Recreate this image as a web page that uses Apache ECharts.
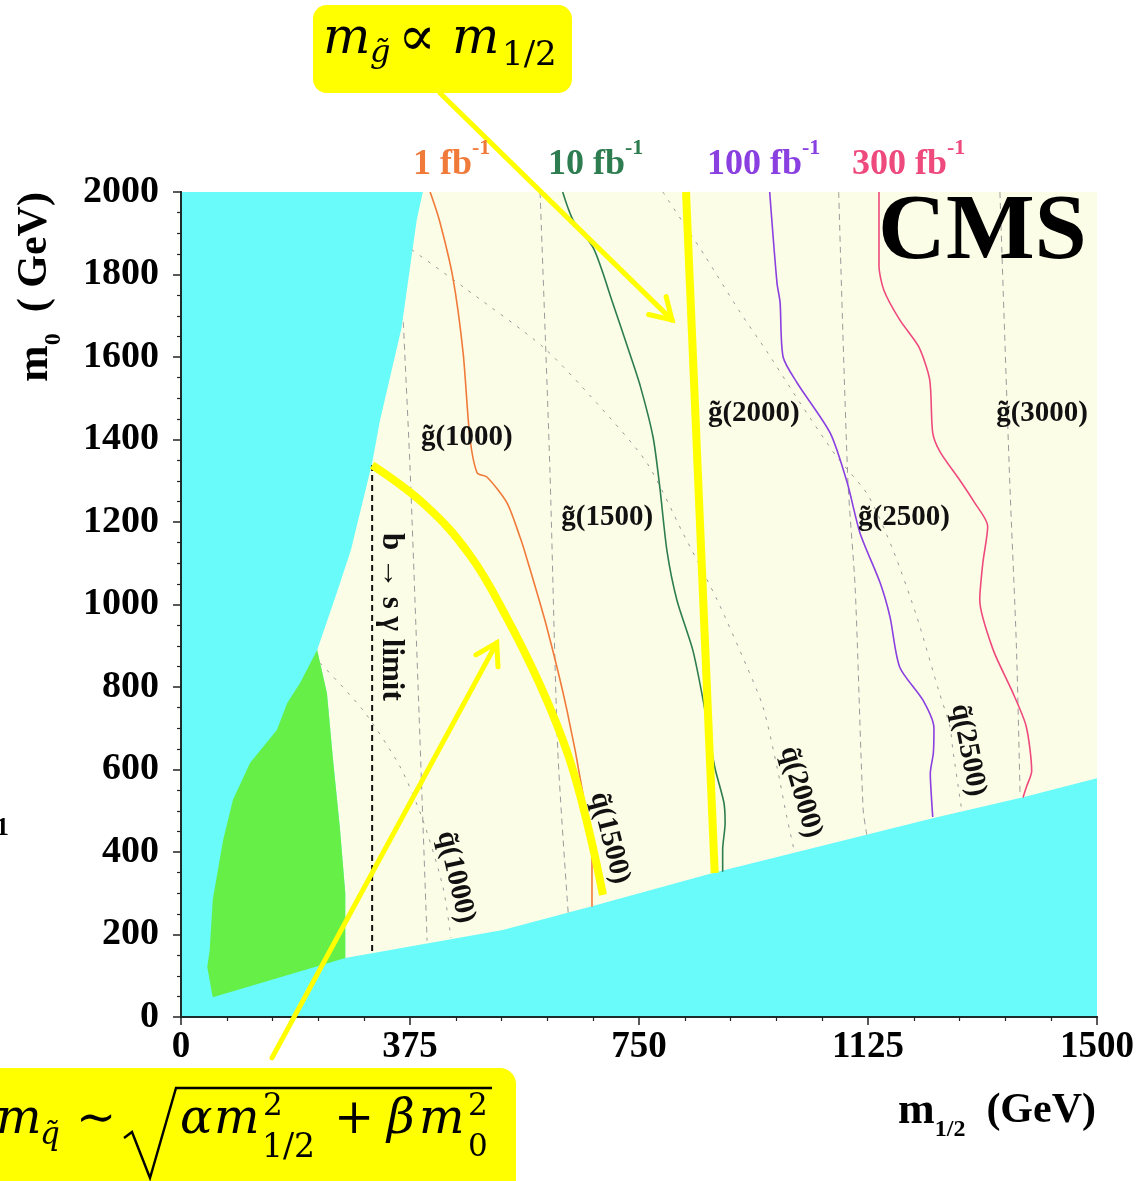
<!DOCTYPE html>
<html><head><meta charset="utf-8">
<script src="https://cdn.jsdelivr.net/npm/echarts/dist/echarts.min.js"></script>
<style>html,body{margin:0;padding:0;background:#fff}#c{width:1146px;height:1181px}</style>
</head><body><div id="c"></div>
<script>
// ---------- data (m1/2 [GeV], m0 [GeV]) ----------
const xTickValues = [0, 375, 750, 1125, 1500];
const xTickLabels = ['0', '375', '750', '1125', '1500'];
const yTickValues = [0, 200, 400, 600, 800, 1000, 1200, 1400, 1600, 1800, 2000];
const yTickLabels = ['0', '200', '400', '600', '800', '1000', '1200', '1400', '1600', '1800', '2000'];

// allowed (cream) region outline
const allowedRegion = [[396,2000],[386,1932],[361,1670],[326,1447],[313,1343],[278,1131],[255,1028],[223,890],
  [239,785],[249,623],[260,461],[269,301],[269,143],[527,211],[670,267],[871,349],[1231,482],[1379,533],[1500,579],[1500,2000]];
// green (excluded) region outline
const greenRegion = [[223,890],[239,785],[249,623],[260,461],[269,301],[269,143],[52,48],[43,121],[47,162],[52,284],
  [69,429],[85,526],[113,616],[157,696],[174,761],[195,810]];

// gluino iso-mass contours
const gluino1000 = [[364,1685],[375,1333],[388,810],[403,185]];
const gluino1500 = [[588,2000],[604,1333],[617,647],[634,253]];
const gluino2000 = [[827,2000],[874,349]];
const gluino2500 = [[1077,2000],[1092,1302],[1104,1040],[1117,504],[1123,442]];
const gluino3000 = [[1341,2000],[1357,1302],[1368,900],[1374,540]];
// squark iso-mass contours
const squark1000 = [[228,858],[298,744],[359,606],[396,478],[429,315],[442,192]];
const squark2000 = [[378,1860],[462,1770],[593,1624],[681,1488],[763,1343],[822,1173],[878,1011],[927,848],[953,752],[976,606],[992,485],[1005,398]];
const squark2500 = [[789,2000],[858,1845],[914,1712],[960,1612],[1015,1486],[1073,1360],[1125,1265],[1166,1132],[1205,970],[1241,790],[1259,705],[1264,647],[1276,526],[1279,497]];

// b -> s gamma limit
const bsgLimit = [[313,1338],[313,155]];

// 5 sigma reach contours
const reach1fb = [[408,2000],[423,1932],[445,1794],[462,1610],[473,1406],[485,1319],[501,1309],[534,1246],[555,1164],[567,1108],[599,945],[632,744],[658,543],[673,381],[673,267]];
const reach10fb = [[625,2000],[642,1932],[676,1862],[707,1731],[734,1612],[752,1530],[773,1406],[784,1285],[796,1128],[812,1011],[838,890],[855,768],[874,606],[889,520],[891,470],[887,405],[887,352]];
const reach100fb = [[964,2000],[976,1779],[981,1733],[986,1600],[1009,1537],[1063,1416],[1091,1295],[1112,1173],[1145,1052],[1161,970],[1177,848],[1215,768],[1233,700],[1232,640],[1227,590],[1229,530],[1231,485]];
const reach300fb = [[1143,2000],[1143,1821],[1151,1762],[1177,1690],[1208,1625],[1226,1545],[1231,1416],[1243,1370],[1276,1300],[1299,1248],[1321,1190],[1313,1100],[1308,1011],[1330,890],[1361,790],[1384,705],[1393,596],[1385,560],[1379,533]];

// yellow annotations
const squarkArc = [[313,1338],[400,1241],[473,1120],[531,975],[588,805],[634,635],[666,465],[691,296]];
const gluinoLine = [[827,2000],[874,349]];
const arrowTop = [[424,2240],[804,1690]];     // tail, head
const arrowBottom = [[149,-99],[517,907]];    // tail, head

// contour labels
const contourLabels = [
  {name:'g̃(1000)', pos:[468,1406], rot:0},
  {name:'g̃(1500)', pos:[698,1210], rot:0},
  {name:'g̃(2000)', pos:[938,1464], rot:0},
  {name:'g̃(2500)', pos:[1184,1210], rot:0},
  {name:'g̃(3000)', pos:[1410,1464], rot:0},
  {name:'q̃(1000)', pos:[450,339], rot:-77},
  {name:'q̃(1500)', pos:[702,434], rot:-76},
  {name:'q̃(2000)', pos:[1015,545], rot:-74},
  {name:'q̃(2500)', pos:[1289,647], rot:-79}
];
const bsgLabel = {name:'b → s γ limit', pos:[344,970], rot:-90};

const lumiNames = ['1 fb', '10 fb', '100 fb', '300 fb'];
const lumiColors = ['#f07a3a', '#2e7d50', '#8a3fe0', '#ee4a7e'];

// ---------- chart ----------
const SERIF = '"Liberation Serif","Times New Roman",serif';
const MATH = '"DejaVu Serif",serif';
const chart = echarts.init(document.getElementById('c'));

function polySeries(points, color, z) {
  return {
    type: 'custom', silent: true, z: z, data: points, encode: {x: 0, y: 1},
    renderItem: (params, api) => {
      if (params.dataIndex !== 0) return;
      return {type: 'polygon', shape: {points: points.map(p => api.coord(p))}, style: {fill: color}};
    }
  };
}
function lineSeries(points, color, width, type, z) {
  return {type: 'line', data: points, symbol: 'none', silent: true, z: z, smooth: 0.25,
    lineStyle: {color: color, width: width, type: type}};
}
const grayDash = [6, 5], grayDot = [3, 7];

const series = [
  polySeries(allowedRegion, '#fbfde6', 1),
  polySeries(greenRegion, '#66ef46', 1),
  lineSeries(gluino1000, '#9a9a9a', 1, grayDash, 3),
  lineSeries(gluino1500, '#9a9a9a', 1, grayDash, 3),
  lineSeries(gluino2000, '#9a9a9a', 1, grayDash, 3),
  lineSeries(gluino2500, '#9a9a9a', 1, grayDash, 3),
  lineSeries(gluino3000, '#9a9a9a', 1, grayDash, 3),
  lineSeries(squark1000, '#9a9a9a', 1, grayDot, 3),
  lineSeries(squark2000, '#9a9a9a', 1, grayDot, 3),
  lineSeries(squark2500, '#9a9a9a', 1, grayDot, 3),
  {type: 'line', data: bsgLimit, symbol: 'none', silent: true, z: 4, lineStyle: {color: '#111', width: 2, type: [6, 4]}},
  lineSeries(reach1fb, lumiColors[0], 1.6, 'solid', 5),
  lineSeries(reach10fb, lumiColors[1], 1.6, 'solid', 5),
  lineSeries(reach100fb, lumiColors[2], 1.6, 'solid', 5),
  lineSeries(reach300fb, lumiColors[3], 1.6, 'solid', 5),
  Object.assign(lineSeries(squarkArc, '#ffff00', 8, 'solid', 6), {smooth: 0.4}),
  {type: 'line', data: gluinoLine, symbol: 'none', silent: true, z: 6, lineStyle: {color: '#ffff00', width: 8}}
];

const axisCommon = {
  type: 'value', z: 10,
  splitLine: {show: false},
  axisLine: {show: true, lineStyle: {color: '#1e2b2b', width: 2}},
  axisTick: {show: true, length: 8, lineStyle: {color: '#222', width: 1.5}},
  minorTick: {show: true, length: 4, lineStyle: {color: '#222', width: 1.2}},
  axisLabel: {color: '#000', fontFamily: SERIF, fontWeight: 'bold', fontSize: 38, showMinLabel: true, showMaxLabel: true}
};

chart.setOption({
  animation: false,
  grid: {left: 181, right: 49, top: 192, bottom: 164, show: true, backgroundColor: '#69fafa', borderWidth: 0, outerBoundsMode: 'none'},
  xAxis: [
    Object.assign({}, axisCommon, {min: 0, max: 1500, interval: 375,
      minorTick: Object.assign({}, axisCommon.minorTick, {splitNumber: 5}),
      axisLabel: Object.assign({}, axisCommon.axisLabel, {margin: 12, fontSize: 37,
        formatter: v => { const i = xTickValues.indexOf(v); return i >= 0 ? xTickLabels[i] : ''; }})}),
    {type: 'value', min: 0, max: 1500, position: 'top', z: 10, splitLine: {show: false}, axisTick: {show: false}, axisLabel: {show: false},
      axisLine: {show: true, lineStyle: {color: '#1e2b2b', width: 2}}}
  ],
  yAxis: [
    Object.assign({}, axisCommon, {min: 0, max: 2000, interval: 200,
      minorTick: Object.assign({}, axisCommon.minorTick, {splitNumber: 4}),
      axisLabel: Object.assign({}, axisCommon.axisLabel, {margin: 22,
        formatter: v => { const i = yTickValues.indexOf(v); return i >= 0 ? yTickLabels[i] : ''; }})}),
    {type: 'value', min: 0, max: 2000, position: 'right', z: 10, splitLine: {show: false}, axisTick: {show: false}, axisLabel: {show: false},
      axisLine: {show: true, lineStyle: {color: '#1e2b2b', width: 2}}}
  ],
  series: series
});

// ---------- annotations ----------
function px(p) { return chart.convertToPixel({xAxisIndex: 0, yAxisIndex: 0}, p); }
function arrow(pts) {
  const a = px(pts[0]), b = px(pts[1]);
  const ang = Math.atan2(b[1] - a[1], b[0] - a[0]);
  const L = 24, spread = 0.55;
  const w1 = [b[0] - L * Math.cos(ang - spread), b[1] - L * Math.sin(ang - spread)];
  const w2 = [b[0] - L * Math.cos(ang + spread), b[1] - L * Math.sin(ang + spread)];
  const st = {stroke: '#ffff00', lineWidth: 5, lineCap: 'round', fill: null};
  return [
    {type: 'polyline', z: 100, shape: {points: [a, b]}, style: st},
    {type: 'polyline', z: 100, shape: {points: [w1, b, w2]}, style: st}
  ];
}
function txt(x, y, text, font, opts) {
  return Object.assign({type: 'text', z: 101, x: x, y: y,
    style: Object.assign({text: text, font: font, fill: '#000', align: 'left', verticalAlign: 'middle'}, opts || {})});
}
const lumiX = [413, 548, 707, 852];
const graphics = [];
// contour labels placed at data positions
contourLabels.concat([bsgLabel]).forEach(l => {
  const p = px(l.pos);
  graphics.push({type: 'text', z: 50, x: p[0], y: p[1], rotation: l.rot * Math.PI / 180,
    style: {text: l.name, font: 'bold ' + (l === bsgLabel ? 31 : 29) + 'px ' + SERIF, fill: '#111', align: 'center', verticalAlign: 'middle'}});
});
arrow(arrowTop).forEach(g => graphics.push(g));
arrow(arrowBottom).forEach(g => graphics.push(g));
// callout boxes
graphics.push({type: 'rect', z: 99, shape: {x: 313, y: 5, width: 259, height: 88, r: 14}, style: {fill: '#ffff00'}});
graphics.push({type: 'rect', z: 99, shape: {x: -30, y: 1068, width: 546, height: 140, r: 16}, style: {fill: '#ffff00'}});
// top formula  m_g ∝ m_1/2
graphics.push(txt(323, 40, 'm', 'italic 50px ' + MATH));
graphics.push(txt(370, 54, 'g̃', 'italic 32px ' + MATH));
graphics.push(txt(398, 40, '∝', '56px ' + MATH));
graphics.push(txt(452, 40, 'm', 'italic 50px ' + MATH));
graphics.push(txt(502, 56, '1/2', '34px ' + MATH));
// bottom formula  m_q ~ sqrt(alpha m1/2^2 + beta m0^2)
const bl = 1138;
graphics.push(txt(-4, bl - 17, 'm', 'italic 48px ' + MATH));
graphics.push(txt(40, bl - 2, 'q̃', 'italic 31px ' + MATH));
graphics.push(txt(76, bl - 17, '∼', '48px ' + MATH));
graphics.push({type: 'polyline', z: 101, shape: {points: [[124, 1138], [132, 1132], [150, 1178], [176, 1088], [492, 1088]]},
  style: {stroke: '#000', lineWidth: 2.4, fill: null}});
graphics.push(txt(180, bl - 17, 'α', 'italic 48px ' + MATH));
graphics.push(txt(214, bl - 17, 'm', 'italic 48px ' + MATH));
graphics.push(txt(263, bl - 31, '2', '31px ' + MATH));
graphics.push(txt(262, bl + 10, '1/2', '33px ' + MATH));
graphics.push(txt(334, bl - 17, '+', '48px ' + MATH));
graphics.push(txt(387, bl - 17, 'β', 'italic 48px ' + MATH));
graphics.push(txt(419, bl - 17, 'm', 'italic 48px ' + MATH));
graphics.push(txt(468, bl - 31, '2', '31px ' + MATH));
graphics.push(txt(468, bl + 10, '0', '31px ' + MATH));
// luminosity labels
lumiNames.forEach((n, i) => {
  graphics.push({type: 'text', z: 101, x: lumiX[i], y: 160, style: {
    text: '{a|' + n + '}{b|-1}', align: 'left', verticalAlign: 'middle',
    rich: {
      a: {fontFamily: SERIF, fontWeight: 'bold', fontSize: 36, fill: lumiColors[i], lineHeight: 46, verticalAlign: 'bottom'},
      b: {fontFamily: SERIF, fontWeight: 'bold', fontSize: 22, fill: lumiColors[i], lineHeight: 22, verticalAlign: 'top'}
    }}});
});
// CMS
graphics.push(txt(878, 234, 'CMS', 'bold 94px ' + SERIF));
// axis titles
graphics.push({type: 'text', z: 101, x: 1096, y: 1116, style: {
  text: '{m|m}{s|1/2}{n|  (GeV)}', align: 'right', verticalAlign: 'middle',
  rich: {
    m: {fontFamily: SERIF, fontWeight: 'bold', fontSize: 44, fill: '#000', lineHeight: 52, verticalAlign: 'top'},
    s: {fontFamily: SERIF, fontWeight: 'bold', fontSize: 24, fill: '#000', lineHeight: 24, verticalAlign: 'bottom'},
    n: {fontFamily: SERIF, fontWeight: 'bold', fontSize: 42, fill: '#000', lineHeight: 52, verticalAlign: 'top'}
  }}});
graphics.push({type: 'text', z: 101, x: 40, y: 287, rotation: Math.PI / 2, style: {
  text: '{m|m}{s|0}{n|  ( GeV)}', align: 'center', verticalAlign: 'middle',
  rich: {
    m: {fontFamily: SERIF, fontWeight: 'bold', fontSize: 44, fill: '#000', lineHeight: 52, verticalAlign: 'top'},
    s: {fontFamily: SERIF, fontWeight: 'bold', fontSize: 24, fill: '#000', lineHeight: 24, verticalAlign: 'bottom'},
    n: {fontFamily: SERIF, fontWeight: 'bold', fontSize: 42, fill: '#000', lineHeight: 52, verticalAlign: 'top'}
  }}});
// stray clipped glyph at the left border
graphics.push(txt(-4, 828, '1', 'bold 26px ' + SERIF));

chart.setOption({graphic: graphics});
</script>
</body></html>
